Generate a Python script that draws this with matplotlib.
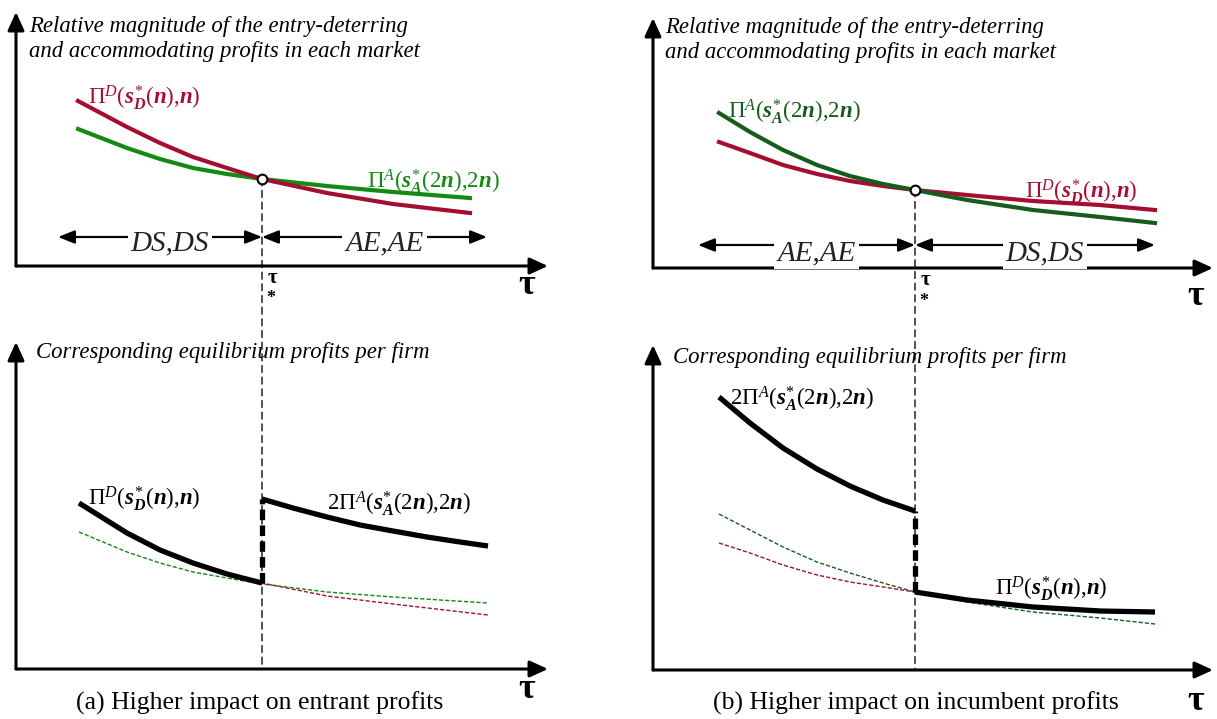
import matplotlib
matplotlib.use('Agg')
from matplotlib import pyplot as plt
from matplotlib.patches import ConnectionPatch

plt.rcParams['font.family'] = ['Liberation Serif', 'DejaVu Serif']
plt.rcParams['mathtext.fontset'] = 'custom'
plt.rcParams['mathtext.rm'] = 'Liberation Serif'
plt.rcParams['mathtext.it'] = 'Liberation Serif:italic:bold'
plt.rcParams['mathtext.bf'] = 'Liberation Serif:bold'
plt.rcParams['mathtext.sf'] = 'Liberation Serif:italic'

RED = '#a50e32'
GREEN_A = '#138a14'
GREEN_B = '#165c1c'

# ---- data (read off the schematic, arbitrary units) ----
# panel (a) top: relative magnitude
tau_a_top = [62, 111, 144, 177, 211, 246, 311, 377, 454]
piD_a_top = [165, 139, 123, 109, 98, 87, 73, 62, 53]
piA_a_top = [137, 118, 107, 98, 92, 87, 80, 74, 68]
# panel (a) bottom: equilibrium profits
tau_a_bot = [63, 111, 144, 177, 211, 246, 311, 377, 472]
piD_a_bot = [166, 136, 119, 106, 95, 86, 73, 65, 54]
piA_a_bot = [137, 117, 106, 97, 91, 85, 77, 72, 66]
tau_a_2A = [246, 277, 311, 344, 377, 411, 444, 472]
two_piA_a = [170, 161, 152, 144, 138, 132, 127, 123]
tau_star_a = 246

# panel (b)
tau_b = [66, 97, 130, 164, 197, 230, 262, 314, 380, 447, 502]
piA_b_top = [155, 136, 118, 103, 92, 84, 78, 68, 58, 51, 45]
piD_b_top = [126, 115, 103, 94, 87, 82, 78, 73, 67, 63, 58]
piA_b_bot = [156, 140, 123, 108, 97, 87, 78, 68, 58, 52, 46]
piD_b_bot = [127, 117, 105, 95, 88, 83, 78, 70, 63, 59, 58]
two_piA_b = [273, 247, 222, 201, 184, 170, 159]
tau_star_b = 262

lab_D = r'$\Pi^{\mathsf{D}}(s^{*}_{D}(n){,}n)$'
lab_A = r'$\Pi^{\mathsf{A}}(s^{*}_{A}(2n){,}2n)$'
lab_2A = r'$2\Pi^{\mathsf{A}}(s^{*}_{A}(2n){,}2n)$'
title_top = 'Relative magnitude of the entry-deterring\nand accommodating profits in each market'
title_bot = 'Corresponding equilibrium profits per firm'

W, H = 1217, 719
fig = plt.figure(figsize=(W / 100, H / 100), dpi=100)


def panel(ox, oy, w, h):
    ax = fig.add_axes([ox / W, (H - oy) / H, w / W, h / H])
    ax.set_xlim(0, w)
    ax.set_ylim(0, h)
    ax.axis('off')
    arr = dict(arrowstyle='-|>,head_length=0.55,head_width=0.25', lw=2.2,
               color='k', mutation_scale=20, shrinkA=0, shrinkB=0)
    ax.annotate('', xy=(w, 0), xytext=(0, 0), arrowprops=arr, annotation_clip=False)
    ax.annotate('', xy=(0, h), xytext=(0, 0), arrowprops=arr, annotation_clip=False)
    return ax


def regions(ax, a, mid, b, y, left, right, ty):
    arr = dict(arrowstyle='<|-|>,head_length=0.5,head_width=0.2', lw=1.6,
               color='k', mutation_scale=20, shrinkA=0, shrinkB=0)
    ax.annotate('', xy=(a, y), xytext=(mid, y), arrowprops=arr, annotation_clip=False)
    ax.annotate('', xy=(mid, y), xytext=(b, y), arrowprops=arr, annotation_clip=False)
    box = dict(facecolor='white', edgecolor='none', pad=2)
    ax.text((a + mid) / 2 + 10, ty, left, fontsize=21, style='italic', color='#222',
            ha='center', va='center', bbox=box, zorder=5)
    ax.text((mid + b) / 2 + 10, ty, right, fontsize=21, style='italic', color='#222',
            ha='center', va='center', bbox=box, zorder=5)


def tau_labels(ax, w, ts, big_y):
    ax.text(w - 21, big_y, 'τ', fontsize=26, fontweight='bold', ha='center', va='center')
    if ts is not None:
        ax.text(ts + 10, -12, 'τ', fontsize=15, fontweight='bold', ha='center', va='center')
        ax.text(ts + 9, -33, '*', fontsize=13, fontweight='bold', ha='center', va='center')


LAB = 16.5
TTL = 16.4

# ---------------- panel (a) ----------------
ax_tl = panel(16, 266, 532, 254)
ax_tl.plot(tau_a_top, piA_a_top, color=GREEN_A, lw=3, solid_joinstyle='round')
ax_tl.plot(tau_a_top, piD_a_top, color=RED, lw=3, solid_joinstyle='round')
ax_tl.plot([tau_star_a], [piD_a_top[5]], 'o', ms=7, mfc='white', mec='k', mew=1.5, zorder=6)
ax_tl.text(13, 227, title_top, fontsize=TTL, style='italic', va='center', linespacing=1.2)
ax_tl.text(72, 168, lab_D, fontsize=LAB, color=RED, va='center')
ax_tl.text(351, 84, lab_A, fontsize=LAB, color=GREEN_A, va='center')
regions(ax_tl, 42, tau_star_a, 471, 29, 'DS,DS', 'AE,AE', 23)
tau_labels(ax_tl, 532, tau_star_a, -20)

ax_bl = panel(16, 669, 532, 327)
ax_bl.plot(tau_a_bot, piA_a_bot, color=GREEN_A, lw=1, ls=(0, (3, 1.5)))
ax_bl.plot(tau_a_bot, piD_a_bot, color=RED, lw=1, ls=(0, (3, 1.5)))
ax_bl.plot(tau_a_bot[:6], piD_a_bot[:6], color='k', lw=3.8, solid_capstyle='butt',
           solid_joinstyle='round')
ax_bl.plot(tau_a_2A, two_piA_a, color='k', lw=3.8, solid_capstyle='butt',
           solid_joinstyle='round')
ax_bl.plot([tau_star_a, tau_star_a], [piD_a_bot[5], two_piA_a[0]], color='k', lw=3.8,
           ls=(0, (2, 1)))
ax_bl.text(20, 317, title_bot, fontsize=TTL, style='italic', va='center')
ax_bl.text(72, 170, lab_D, fontsize=LAB, va='center')
ax_bl.text(311, 165, lab_2A, fontsize=LAB, va='center')
tau_labels(ax_bl, 532, None, -20)

fig.add_artist(ConnectionPatch(xyA=(tau_star_a, piD_a_top[5]), coordsA='data', axesA=ax_tl,
                               xyB=(tau_star_a, 0), coordsB='data', axesB=ax_bl,
                               ls=(0, (4, 3)), lw=1.2, color='#333', zorder=-1))

# ---------------- panel (b) ----------------
ax_tr = panel(653, 268, 560, 250)
ax_tr.plot(tau_b, piD_b_top, color=RED, lw=3, solid_joinstyle='round')
ax_tr.plot(tau_b, piA_b_top, color=GREEN_B, lw=3, solid_joinstyle='round')
ax_tr.plot([tau_star_b], [piA_b_top[6]], 'o', ms=7, mfc='white', mec='k', mew=1.5, zorder=6)
ax_tr.text(12, 228, title_top, fontsize=TTL, style='italic', va='center', linespacing=1.2)
ax_tr.text(75, 156, lab_A, fontsize=LAB, color=GREEN_B, va='center')
ax_tr.text(372, 76, lab_D, fontsize=LAB, color=RED, va='center')
regions(ax_tr, 45, tau_star_b, 502, 23, 'AE,AE', 'DS,DS', 15)
tau_labels(ax_tr, 564, tau_star_b, -28)

ax_br = panel(653, 670, 560, 325)
ax_br.plot(tau_b, piA_b_bot, color=GREEN_B, lw=1, ls=(0, (3, 1.5)))
ax_br.plot(tau_b, piD_b_bot, color=RED, lw=1, ls=(0, (3, 1.5)))
ax_br.plot(tau_b[:7], two_piA_b, color='k', lw=3.8, solid_capstyle='butt',
           solid_joinstyle='round')
ax_br.plot(tau_b[6:], piD_b_bot[6:], color='k', lw=3.8, solid_capstyle='butt',
           solid_joinstyle='round')
ax_br.plot([tau_star_b, tau_star_b], [piD_b_bot[6], two_piA_b[-1]], color='k', lw=3.8,
           ls=(0, (2, 1)))
ax_br.text(20, 313, title_bot, fontsize=TTL, style='italic', va='center')
ax_br.text(77, 271, lab_2A, fontsize=LAB, va='center')
ax_br.text(342, 81, lab_D, fontsize=LAB, va='center')
tau_labels(ax_br, 564, None, -32)

fig.add_artist(ConnectionPatch(xyA=(tau_star_b, piA_b_top[6]), coordsA='data', axesA=ax_tr,
                               xyB=(tau_star_b, 0), coordsB='data', axesB=ax_br,
                               ls=(0, (4, 3)), lw=1.2, color='#333', zorder=-1))

fig.text(260 / W, 1 - 703 / H, '(a) Higher impact on entrant profits', fontsize=18.5,
         ha='center', va='center')
fig.text(916 / W, 1 - 703 / H, '(b) Higher impact on incumbent profits', fontsize=18.5,
         ha='center', va='center')

fig.savefig('out.png', dpi=100)
